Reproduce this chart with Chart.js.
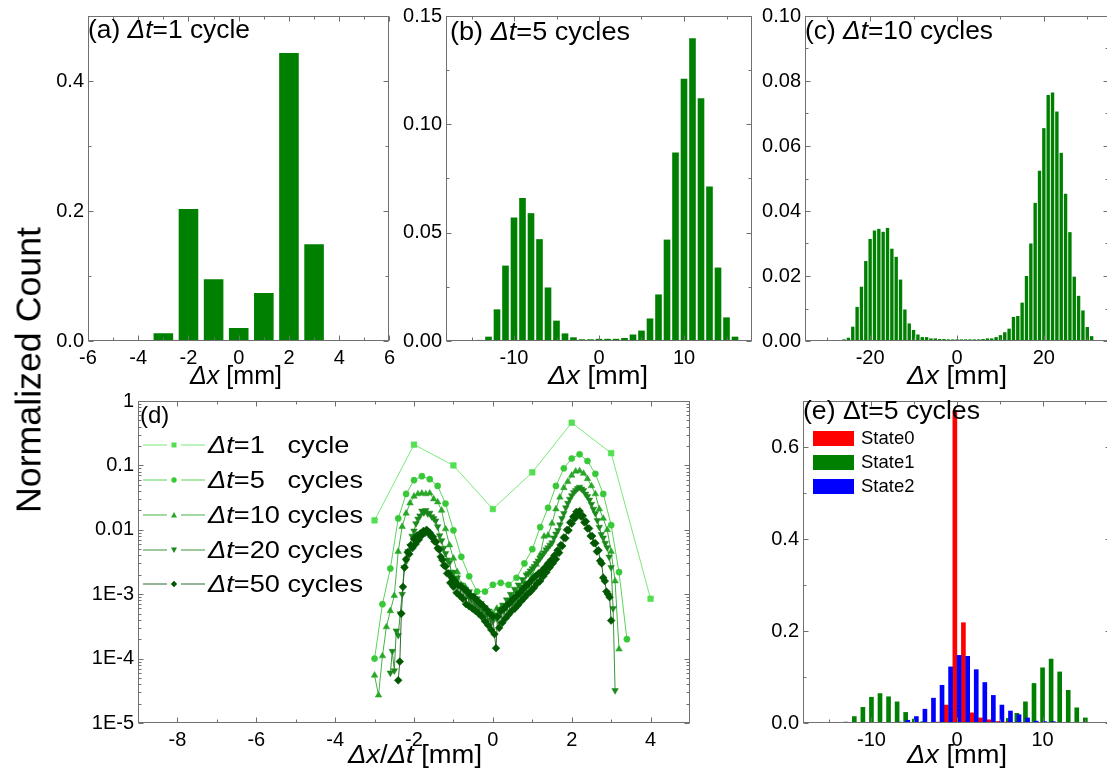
<!DOCTYPE html>
<html>
<head>
<meta charset="utf-8">
<script src="https://cdn.jsdelivr.net/npm/chart.js@4.4.1/dist/chart.umd.min.js"></script>
<style>
  html, body { margin: 0; padding: 0; background: #fff; }
  #fig { position: relative; width: 1107px; height: 772px; overflow: hidden; background: #fff;
         font-family: "Liberation Sans", Arial, sans-serif; color: #000; }
  #fig canvas { position: absolute; }
  .t { position: absolute; white-space: pre; line-height: 1; z-index: 5; }
  .sw { position: absolute; z-index: 5; }
</style>
</head>
<body>
<div id="fig"></div>
<script>
const range = (a, b, s = 1) => { const r = []; for (let v = a; v <= b + 1e-9; v += s) r.push(Math.round(v * 1000) / 1000); return r; };

// ===================== DATA =====================
// (a) Δt = 1 cycle histogram
const aBins   = range(-3, 4);
const aCount  = [0.012, 0.203, 0.095, 0.020, 0.074, 0.443, 0.149, 0.001];
const aXTicks = [-6, -4, -2, 0, 2, 4, 6];
const aYTicks = [0, 0.2, 0.4];

// (b) Δt = 5 cycles histogram
const bBins   = range(-15, 16);
const bCount  = [0.0002, 0.0005, 0.002, 0.0146, 0.0348, 0.057, 0.066, 0.059, 0.047, 0.0247,
                 0.0094, 0.0035, 0.0017, 0.0008, 0.0008, 0.0010, 0.0010, 0.0010, 0.0014, 0.0030,
                 0.0048, 0.0104, 0.0215, 0.0468, 0.087, 0.121, 0.1397, 0.112, 0.0713, 0.0339,
                 0.0109, 0.0020];
const bXTicks = [-10, 0, 10];
const bYTicks = [0, 0.05, 0.10, 0.15];

// (c) Δt = 10 cycles histogram
const cBins   = range(-30, 31);
const cCount  = [0.0001, 0.0001, 0.0002, 0.0003, 0.0005, 0.0010, 0.0044, 0.0105, 0.0167, 0.0246,
                 0.0314, 0.0340, 0.0345, 0.0336, 0.0348, 0.0284, 0.0259, 0.0189, 0.0097, 0.0054,
                 0.0034, 0.0020, 0.0012, 0.0012, 0.0008, 0.0008, 0.0006, 0.0006, 0.0005, 0.0005,
                 0.0005, 0.0005, 0.0005, 0.0005, 0.0005, 0.0005, 0.0006, 0.0008, 0.0008, 0.0012,
                 0.0018, 0.0027, 0.0038, 0.0074, 0.0077, 0.0118, 0.0200, 0.0300, 0.0425, 0.0524,
                 0.0655, 0.0757, 0.0765, 0.0706, 0.0579, 0.0453, 0.0335, 0.0198, 0.0139, 0.0094,
                 0.0043, 0.0015];
const cXTicks = [-20, 0, 20];
const cYTicks = [0, 0.02, 0.04, 0.06, 0.08, 0.10];

// (d) log plot: Δx/Δt for several Δt
const dNames  = ['1   cycle', '5   cycles', '10 cycles', '20 cycles', '50 cycles'];
const dDt     = [1, 5, 10, 20, 50];
const dt1Bins = range(-3, 4);
const dt1Vals = [0.014, 0.21, 0.10, 0.021, 0.078, 0.46, 0.155, 0.00085];
const dt5Bins = range(-15, 17);
const dt5Vals = [0.0001, 0.0007, 0.0025, 0.0150, 0.036, 0.059, 0.068, 0.061, 0.048, 0.0255,
                 0.0098, 0.0038, 0.0019, 0.0011, 0.0011, 0.0014, 0.0015, 0.0014, 0.0018, 0.0030,
                 0.0050, 0.011, 0.022, 0.048, 0.090, 0.128, 0.149, 0.117, 0.074, 0.036,
                 0.0118, 0.0022, 0.0002];
const dt10Bins = range(-30, 32);
const dt10Vals = [5.5e-5, 2.7e-5, 1.1e-4, 3.1e-4, 5.5e-4, 9.5e-4, 0.0046, 0.0112, 0.018, 0.026,
                  0.033, 0.036, 0.037, 0.036, 0.037, 0.030, 0.027, 0.020, 0.0103, 0.0058,
                  0.0036, 0.0022, 0.0014, 0.0013, 0.0009, 0.0009, 0.0007, 0.0007, 0.0006, 0.0005,
                  0.0005, 0.0006, 0.0006, 0.0006, 0.0007, 0.0007, 0.0008, 0.0009, 0.0010, 0.0013,
                  0.0019, 0.0029, 0.0041, 0.0079, 0.0082, 0.0126, 0.021, 0.032, 0.045, 0.056,
                  0.070, 0.081, 0.082, 0.075, 0.062, 0.048, 0.036, 0.021, 0.015, 0.010,
                  0.0046, 0.0016, 0.00014];
const dt20Bins = range(-52, 62);
const dt20Vals = [6e-5, 1.3e-4, 6.5e-5, 2.7e-4, 2.3e-4, 5e-4, 1.0e-3, 2.6e-3, 3.2e-3, 4.6e-3,
                  5.6e-3, 8.0e-3, 9.6e-3, 0.0125, 0.0147, 0.0165, 0.0196, 0.0185, 0.0200, 0.0178,
                  0.0182, 0.0160, 0.0150, 0.0138, 0.0112, 0.0081, 0.0068, 0.0052, 0.0043, 0.0034,
                  0.0031, 0.0022, 0.0022, 0.0017, 0.0018, 0.0014, 0.0014, 0.0012, 0.0012, 0.00098,
                  0.0011, 0.00082, 0.00095, 0.00072, 0.00085, 0.00062, 0.00072, 0.00055, 0.00062, 0.00048,
                  0.00055, 0.0004, 0.00038, 0.00048, 0.00042, 0.00058, 0.00052, 0.00068, 0.0006, 0.00082,
                  0.00072, 0.0010, 0.00088, 0.0012, 0.0011, 0.0014, 0.0013, 0.0017, 0.0015, 0.0020,
                  0.0021, 0.0023, 0.0025, 0.0027, 0.0030, 0.0033, 0.0036, 0.0040, 0.0044, 0.0049,
                  0.0053, 0.0058, 0.0063, 0.0075, 0.0086, 0.0098, 0.012, 0.015, 0.018, 0.022,
                  0.026, 0.030, 0.034, 0.038, 0.041, 0.044, 0.046, 0.043, 0.041, 0.036,
                  0.033, 0.029, 0.025, 0.021, 0.018, 0.014, 0.011, 0.0085, 0.0075, 0.0062,
                  0.0053, 0.0038, 0.0026, 0.0006, 0.000032];
const dt50Bins = range(-120, 150, 2);
const dt50Vals = [4.6e-5, 9e-5, 5e-4, 1.3e-3, 2.6e-3, 3.5e-3, 4.5e-3, 4.2e-3, 5.8e-3, 5.2e-3,
                  7.2e-3, 6.0e-3, 8.2e-3, 7.0e-3, 8.8e-3, 8.2e-3, 9.6e-3, 9.0e-3, 1.0e-2, 9.0e-3,
                  9.0e-3, 7.8e-3, 7.8e-3, 6.6e-3, 6.5e-3, 5.2e-3, 4.9e-3, 3.8e-3, 3.4e-3, 2.8e-3,
                  2.7e-3, 2.1e-3, 2.1e-3, 1.5e-3, 1.8e-3, 1.3e-3, 1.6e-3, 1.05e-3, 1.4e-3, 9.5e-4,
                  1.3e-3, 8.5e-4, 1.2e-3, 7e-4, 1.1e-3, 6.5e-4, 9.5e-4, 6e-4, 9e-4, 5.5e-4,
                  8e-4, 5e-4, 7.2e-4, 4.5e-4, 6.5e-4, 3.8e-4, 5.8e-4, 3.3e-4, 5e-4, 2.8e-4,
                  4.5e-4, 2.4e-4, 1.45e-4, 4.5e-4, 3e-4, 5.5e-4, 3.6e-4, 6e-4, 4.2e-4, 6.8e-4,
                  4.8e-4, 7.5e-4, 5.5e-4, 8.5e-4, 6e-4, 9.5e-4, 6.8e-4, 1.05e-3, 7.8e-4, 1.2e-3,
                  8.8e-4, 1.35e-3, 1.0e-3, 1.5e-3, 1.1e-3, 1.7e-3, 1.25e-3, 1.9e-3, 1.45e-3, 2.1e-3,
                  1.6e-3, 2.3e-3, 1.9e-3, 2.6e-3, 2.2e-3, 3.0e-3, 2.6e-3, 3.4e-3, 3.0e-3, 4.0e-3,
                  3.5e-3, 4.8e-3, 4.4e-3, 5.8e-3, 5.6e-3, 7.6e-3, 7.4e-3, 1.0e-2, 9.8e-3, 1.3e-2,
                  1.25e-2, 1.6e-2, 1.5e-2, 1.9e-2, 1.75e-2, 1.95e-2, 1.6e-2, 1.65e-2, 1.3e-2, 1.35e-2,
                  1.05e-2, 1.05e-2, 8.0e-3, 8.0e-3, 6.2e-3, 6.2e-3, 4.6e-3, 4.8e-3, 3.3e-3, 3.0e-3,
                  1.8e-3, 1.6e-3, 1.1e-3, 1.0e-3, 9e-4, 3.9e-4];
const dXTicks  = [-8, -6, -4, -2, 0, 2, 4];
const dYTicks  = [1e-5, 1e-4, 1e-3, 0.01, 0.1, 1];
const dYLabels = ['1E-5', '1E-4', '1E-3', '0.01', '0.1', '1'];

// (e) Δt = 5 cycles, per state
const eNames     = ['State0', 'State1', 'State2'];
const eRedBins   = range(-3, 7);
const eRed       = [0.001, 0.002, 0.039, 0.679, 0.218, 0.022, 0.011, 0.007, 0.003, 0.002, 0.001];
const eGreenBins = range(-14, 16);
const eGreen     = [0.0005, 0.002, 0.014, 0.034, 0.056, 0.064, 0.057, 0.046, 0.023, 0.0086,
                    0.003, 0.001, 0.001, 0.001, 0.001, 0.001, 0.001, 0.001, 0.002, 0.003,
                    0.010, 0.021, 0.046, 0.086, 0.120, 0.139, 0.111, 0.071, 0.033, 0.011, 0.001];
const eBlueBins  = range(-8, 12);
const eBlue      = [0.001, 0.002, 0.006, 0.014, 0.030, 0.054, 0.082, 0.122, 0.147, 0.145,
                    0.116, 0.088, 0.060, 0.039, 0.026, 0.018, 0.011, 0.004, 0.003, 0.003, 0.001];
const eXTicks = [-10, 0, 10];
const eYTicks = [0, 0.2, 0.4, 0.6];

// ===================== STYLE / LAYOUT =====================
const fig = document.getElementById('fig');
const FONT = '"Liberation Sans", Arial, sans-serif';
const TICK_FS = 20;
const FRAME = '#707070';
const BAR_GREEN = '#008000';
Chart.defaults.font.family = FONT;
Chart.defaults.color = '#000';

const P = {
  a: { plot: { l: 88,  t: 15,  r: 392,  b: 341 }, can: { l: 40,  t: 0,   r: 400,  b: 372 } },
  b: { plot: { l: 446, t: 15,  r: 752,  b: 341 }, can: { l: 400, t: 0,   r: 760,  b: 372 } },
  c: { plot: { l: 805, t: 15,  r: 1109, b: 341 }, can: { l: 760, t: 0,   r: 1115, b: 372 } },
  d: { plot: { l: 138, t: 400, r: 690,  b: 723 }, can: { l: 86,  t: 385, r: 700,  b: 772 } },
  e: { plot: { l: 803, t: 398, r: 1111, b: 723 }, can: { l: 760, t: 385, r: 1115, b: 772 } }
};

function linMinor(majors, min, max) {
  const step = majors[1] - majors[0], out = [];
  for (let v = majors[0] - step / 2; v < max; v += step) if (v > min + 1e-9) out.push(v);
  return out;
}
function logMinor(min, max) {
  const out = [];
  for (let e = Math.log10(min); e < Math.log10(max); e++)
    for (let k = 2; k <= 9; k++) out.push(k * Math.pow(10, e));
  return out;
}

function framePlugin(xMinor, yMinor) {
  return {
    id: 'frame',
    afterDatasetsDraw(chart) {
      const { ctx, chartArea: a } = chart;
      const sx = chart.scales.x, sy = chart.scales.y;
      const L = Math.round(a.left) + 0.5, R = Math.round(a.right) - 0.5;
      const T = Math.round(a.top) + 0.5, B = Math.round(a.bottom) - 0.5;
      ctx.save();
      ctx.strokeStyle = FRAME; ctx.lineWidth = 1;
      ctx.strokeRect(L, T, R - L, B - T);
      ctx.beginPath();
      const xt = (v, len) => { const p = Math.round(sx.getPixelForValue(v)) + 0.5;
        ctx.moveTo(p, B); ctx.lineTo(p, B - len); ctx.moveTo(p, T); ctx.lineTo(p, T + len); };
      const yt = (v, len) => { const p = Math.round(sy.getPixelForValue(v)) + 0.5;
        ctx.moveTo(L, p); ctx.lineTo(L + len, p); ctx.moveTo(R, p); ctx.lineTo(R - len, p); };
      sx.ticks.forEach(t => xt(t.value, 5)); xMinor.forEach(v => xt(v, 3));
      sy.ticks.forEach(t => yt(t.value, 5)); yMinor.forEach(v => yt(v, 3));
      ctx.stroke();
      ctx.restore();
    }
  };
}

function makePanel(key, type, datasets, xs, ys) {
  const { plot, can } = P[key];
  const W = can.r - can.l, H = can.b - can.t;
  const cv = document.createElement('canvas');
  cv.width = W; cv.height = H;
  Object.assign(cv.style, { left: can.l + 'px', top: can.t + 'px', width: W + 'px', height: H + 'px' });
  fig.appendChild(cv);
  const padL = plot.l - can.l, padT = plot.t - can.t, padR = can.r - plot.r, padB = can.b - plot.b;
  const tickFont = { family: FONT, size: TICK_FS };
  const xMinor = linMinor(xs.ticks, xs.min, xs.max);
  const yMinor = ys.log ? logMinor(ys.min, ys.max) : linMinor(ys.ticks, ys.min, ys.max);
  new Chart(cv, {
    type,
    data: { datasets },
    options: {
      responsive: false, animation: false, devicePixelRatio: 1,
      layout: { padding: { top: padT, right: padR, left: 0, bottom: 0 } },
      plugins: { legend: { display: false }, tooltip: { enabled: false } },
      scales: {
        x: {
          type: 'linear', position: 'bottom', offset: false, min: xs.min, max: xs.max,
          grid: { display: false, drawTicks: false }, border: { display: false },
          ticks: { padding: 5, maxRotation: 0, autoSkip: false, font: tickFont, color: '#000',
                   callback: v => String(v) },
          afterBuildTicks: s => { s.ticks = xs.ticks.map(v => ({ value: v })); },
          afterFit: s => { s.height = padB; }
        },
        y: {
          type: ys.log ? 'logarithmic' : 'linear', position: 'left', min: ys.min, max: ys.max,
          grid: { display: false, drawTicks: false }, border: { display: false },
          ticks: { padding: 4, autoSkip: false, font: tickFont, color: '#000',
                   callback: (v, i) => ys.labels ? ys.labels[i] : v.toFixed(ys.dec) },
          afterBuildTicks: s => { s.ticks = ys.ticks.map(v => ({ value: v })); },
          afterFit: s => { s.width = padL; }
        }
      }
    },
    plugins: [framePlugin(xMinor, yMinor)]
  });
}

const pts = (bins, vals, div = 1, shift = 0) => bins.map((b, i) => ({ x: b / div + shift, y: vals[i] }));
const histDS = (bins, vals) => ({ data: pts(bins, vals), backgroundColor: BAR_GREEN, borderWidth: 0,
                                  barPercentage: 0.78, categoryPercentage: 1 });

// ---- (a) (b) (c)
makePanel('a', 'bar', [histDS(aBins, aCount)], { min: -6, max: 6, ticks: aXTicks },
          { min: 0, max: 0.5, ticks: aYTicks, dec: 1 });
makePanel('b', 'bar', [histDS(bBins, bCount)], { min: -18, max: 18, ticks: bXTicks },
          { min: 0, max: 0.15, ticks: bYTicks, dec: 2 });
makePanel('c', 'bar', [histDS(cBins, cCount)], { min: -35, max: 35, ticks: cXTicks },
          { min: 0, max: 0.10, ticks: cYTicks, dec: 2 });

// ---- (d)
const dFill  = ['#52df52', '#38c938', '#28a628', '#1b881b', '#005800'];
const dLine  = ['#7be87b', '#5cd35c', '#45b445', '#3a953a', '#2d6b2d'];
const dShape = [
  { pointStyle: 'rect', radius: 4, rot: 0 },
  { pointStyle: 'circle', radius: 3.1, rot: 0 },
  { pointStyle: 'triangle', radius: 3.8, rot: 0 },
  { pointStyle: 'triangle', radius: 3.8, rot: 180 },
  { pointStyle: 'rectRot', radius: 3.9, rot: 0 }
];
const dSeries = [[dt1Bins, dt1Vals], [dt5Bins, dt5Vals], [dt10Bins, dt10Vals], [dt20Bins, dt20Vals], [dt50Bins, dt50Vals]];
const dDatasets = dSeries.map(([bins, vals], i) => ({
  label: 'Δt=' + dNames[i],
  data: pts(bins, vals, dDt[i]),
  showLine: true, borderColor: dLine[i], borderWidth: 1,
  pointStyle: dShape[i].pointStyle, pointRadius: dShape[i].radius, pointRotation: dShape[i].rot,
  pointBackgroundColor: dFill[i], pointBorderColor: dFill[i], pointBorderWidth: 0.5,
  order: 5 - i
}));
makePanel('d', 'scatter', dDatasets, { min: -9, max: 5, ticks: dXTicks },
          { log: true, min: 1e-5, max: 1, ticks: dYTicks, labels: dYLabels });

// ---- (e)
const eColors = ['#ff0000', '#008000', '#0000ff'];
const eShift  = [-0.25, 0, 0.25];
const eOrder  = [2, 3, 1];
const eSets   = [[eRedBins, eRed], [eGreenBins, eGreen], [eBlueBins, eBlue]];
makePanel('e', 'bar', eSets.map(([bins, vals], i) => ({
  label: eNames[i], data: pts(bins, vals, 1, eShift[i]), backgroundColor: eColors[i],
  borderWidth: 0, grouped: false, barThickness: 4, order: eOrder[i]
})), { min: -18, max: 18, ticks: eXTicks }, { min: 0, max: 0.7, ticks: eYTicks, dec: 1 });

// ===================== TEXT (real HTML text) =====================
function txt(html, x, base, fs, opt = {}) {
  const d = document.createElement('div');
  d.className = 't';
  d.innerHTML = html;
  d.style.fontSize = fs + 'px';
  d.style.left = x + 'px';
  d.style.top = (base - 0.8465 * fs) + 'px';
  fig.appendChild(d);
  let sx = opt.sx || 1;
  if (opt.w) sx = opt.w / d.getBoundingClientRect().width;
  if (opt.align === 'center') { d.style.transformOrigin = '50% 50%'; d.style.transform = `translateX(-50%) scaleX(${sx})`; }
  else { d.style.transformOrigin = '0 0'; d.style.transform = `scaleX(${sx})`; }
  return sx;
}

// y-axis common title
const nc = document.createElement('div');
nc.className = 't'; nc.textContent = 'Normalized Count'; nc.style.fontSize = '35px';
fig.appendChild(nc);
const ncS = 286 / nc.getBoundingClientRect().width;
Object.assign(nc.style, { left: '28px', top: '370px', transformOrigin: '0 0',
  transform: `rotate(-90deg) scaleX(${ncS}) translate(-50%, -50%)` });

// panel titles
txt('(a) <i>Δt</i>=1 cycle', 88, 38, 25, { w: 162 });
txt('(b) <i>Δt</i>=5 cycles', 450, 40, 25, { w: 180 });
txt('(c) <i>Δt</i>=10 cycles', 805, 39, 25, { w: 188 });
txt('(d)', 140, 423, 24);
txt('(e) Δt=5 cycles', 803, 419, 25, { w: 177 });

// axis titles
txt('<i>Δx</i> [mm]', 236, 384, 25, { align: 'center', w: 92 });
txt('<i>Δx</i> [mm]', 598, 384, 25, { align: 'center', w: 100 });
txt('<i>Δx</i> [mm]', 957, 384, 25, { align: 'center', w: 100 });
txt('<i>Δx</i>/<i>Δt</i> [mm]', 415, 763, 25, { align: 'center', w: 134 });
txt('<i>Δx</i> [mm]', 957, 763, 25, { align: 'center', w: 100 });

// (d) legend
const legBase = [453, 488, 523, 558, 592];
const probe = document.createElement('div'); probe.className = 't'; probe.style.fontSize = '24px';
probe.innerHTML = '<i>Δt</i>=' + dNames[2]; fig.appendChild(probe);
const legS = 155 / probe.getBoundingClientRect().width; probe.remove();
function markerSVG(i) {
  const c = dFill[i], cx = 31, cy = 6;
  let m;
  if (i === 0) m = `<rect x="${cx - 2.5}" y="${cy - 2.5}" width="5" height="5" fill="${c}"/>`;
  else if (i === 1) m = `<circle cx="${cx}" cy="${cy}" r="2.7" fill="${c}"/>`;
  else if (i === 2) m = `<polygon points="${cx},${cy - 3} ${cx + 3},${cy + 2.5} ${cx - 3},${cy + 2.5}" fill="${c}"/>`;
  else if (i === 3) m = `<polygon points="${cx},${cy + 3} ${cx + 3},${cy - 2.5} ${cx - 3},${cy - 2.5}" fill="${c}"/>`;
  else m = `<polygon points="${cx},${cy - 3.2} ${cx + 3.2},${cy} ${cx},${cy + 3.2} ${cx - 3.2},${cy}" fill="${c}"/>`;
  return `<svg width="63" height="12" xmlns="http://www.w3.org/2000/svg">
    <line x1="0" y1="${cy}" x2="24" y2="${cy}" stroke="${dLine[i]}" stroke-width="1"/>
    <line x1="38" y1="${cy}" x2="62" y2="${cy}" stroke="${dLine[i]}" stroke-width="1"/>${m}</svg>`;
}
dNames.forEach((n, i) => {
  const s = document.createElement('div'); s.className = 'sw';
  s.style.left = '143px'; s.style.top = (legBase[i] - 10 - 6) + 'px';
  s.innerHTML = markerSVG(i); fig.appendChild(s);
  txt('<i>Δt</i>=' + n, 208, legBase[i], 24, { sx: legS });
});

// (e) legend
const eLegTop = [431, 455, 479];
eNames.forEach((n, i) => {
  const s = document.createElement('div'); s.className = 'sw';
  Object.assign(s.style, { left: '813px', top: eLegTop[i] + 'px', width: '41px', height: '15px', background: eColors[i] });
  fig.appendChild(s);
  txt(n, 861, eLegTop[i] + 14, 18.5);
});
</script>
</body>
</html>
